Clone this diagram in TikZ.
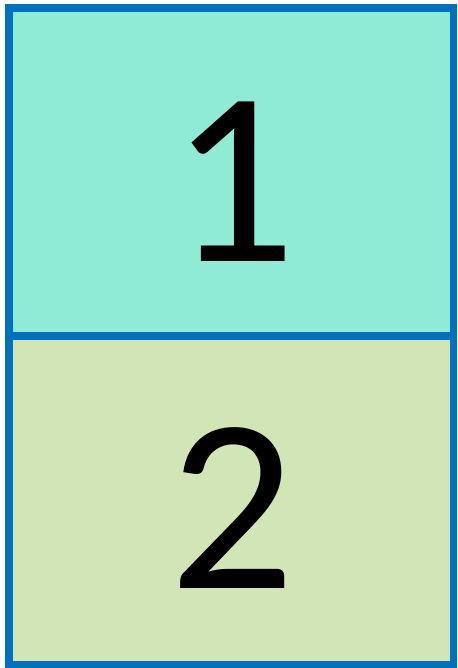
\documentclass[tikz,border=0pt]{standalone}
\usepackage{fontspec}
\setmainfont{Carlito}
\definecolor{topc}{HTML}{90EBD4}
\definecolor{botc}{HTML}{D1E5B6}
\definecolor{edge}{HTML}{0070C0}
\begin{document}
\begin{tikzpicture}[x=1pt,y=-1pt,
  cell/.style={draw=edge,line width=7.5pt,inner sep=0pt,outer sep=0pt},
  digit/.style={inner sep=0pt,font=\fontsize{248}{248}\selectfont}]
\useasboundingbox (0,0) rectangle (457,668);
\fill[topc] (9,8) rectangle (453.5,336);
\fill[botc] (9,336) rectangle (453.5,665);
\draw[cell] (9,8) rectangle (453.5,665);
\draw[cell] (9,336) -- (453.5,336);
\node[digit,anchor=base] (one) at (233,261) {1};
\node[digit,anchor=base] (two) at (232,588) {2};
\end{tikzpicture}
\end{document}
